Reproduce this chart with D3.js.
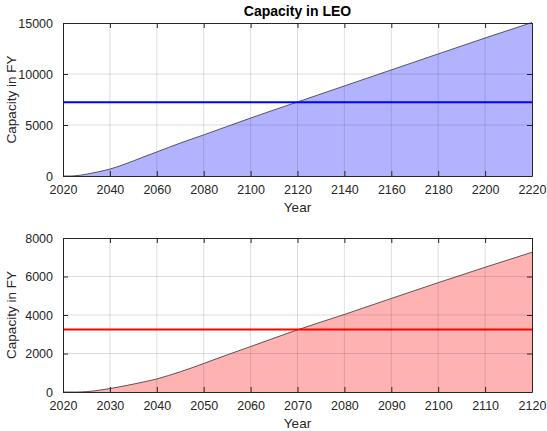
<!DOCTYPE html>
<html>
<head>
<meta charset="utf-8">
<script src="https://cdn.jsdelivr.net/npm/d3@7"></script>
<style>
  body { margin: 0; background: #fff; }
  svg { display: block; font-family: "Liberation Sans", Arial, Helvetica, sans-serif; }
</style>
</head>
<body>
<svg id="chart" width="547" height="431"></svg>
<script>
// Cumulative capacity (FY) by year
const years    = [2020, 2023, 2025, 2030, 2035, 2040, 2045, 2050, 2055, 2060, 2065, 2070, 2080, 2090, 2100, 2110, 2120, 2140, 2160, 2180, 2200, 2220];
const capacity = [0,    0,    20,   180,  410,  680,  1050, 1480, 1930, 2360, 2800, 3230, 4030, 4860, 5680, 6480, 7260, 8830, 10400, 11970, 13530, 15050];

// Demand levels drawn as horizontal reference lines
const demandLEO = 7220;
const demandLow = 3250;

// Panel settings
const panels = [
  { title: "Capacity in LEO", xDomain: [2020, 2220], xTicks: d3.range(2020, 2221, 20),
    yDomain: [0, 15000], yTicks: [0, 5000, 10000, 15000], demand: demandLEO,
    fill: "rgb(178,178,255)", line: "#0000ff", top: 23, bottom: 176 },
  { title: null, xDomain: [2020, 2120], xTicks: d3.range(2020, 2121, 10),
    yDomain: [0, 8000], yTicks: [0, 2000, 4000, 6000, 8000], demand: demandLow,
    fill: "rgb(255,178,178)", line: "#ff0000", top: 238, bottom: 392 }
];

const svg = d3.select("#chart");
const left = 63, right = 532;
const textColor = "#262626";
const tickLen = 5;

panels.forEach(p => {
  const x = d3.scaleLinear().domain(p.xDomain).range([left, right]);
  const y = d3.scaleLinear().domain(p.yDomain).range([p.bottom, p.top]);
  const g = svg.append("g");

  // Data restricted to the panel's year range
  const pts = years.map((yr, i) => ({ yr, v: capacity[i] }))
                   .filter(d => d.yr >= p.xDomain[0] && d.yr <= p.xDomain[1]);

  const area = d3.area().x(d => x(d.yr)).y0(y(0)).y1(d => y(d.v)).curve(d3.curveMonotoneX);
  const line = d3.line().x(d => x(d.yr)).y(d => y(d.v)).curve(d3.curveMonotoneX);

  g.append("path").datum(pts).attr("d", area).attr("fill", p.fill);
  g.append("path").datum(pts).attr("d", line)
    .attr("fill", "none").attr("stroke", "#333").attr("stroke-width", 0.8);

  // Grid drawn over the fill
  const grid = g.append("g").attr("stroke", "rgba(38,38,38,0.15)").attr("stroke-width", 1);
  p.xTicks.slice(1, -1).forEach(t => {
    grid.append("line").attr("x1", x(t)).attr("x2", x(t)).attr("y1", p.top).attr("y2", p.bottom);
  });
  p.yTicks.slice(1, -1).forEach(t => {
    grid.append("line").attr("x1", left).attr("x2", right).attr("y1", y(t)).attr("y2", y(t));
  });

  // Demand level
  g.append("line")
    .attr("x1", left).attr("x2", right)
    .attr("y1", y(p.demand)).attr("y2", y(p.demand))
    .attr("stroke", p.line).attr("stroke-width", 2);

  // Axes with inward ticks on all four sides
  const xAxisB = d3.axisBottom(x).tickValues(p.xTicks).tickFormat(d3.format("d"))
    .tickSizeInner(-tickLen).tickSizeOuter(0).tickPadding(9);
  const xAxisT = d3.axisTop(x).tickValues(p.xTicks).tickFormat("")
    .tickSizeInner(-tickLen).tickSizeOuter(0);
  const yAxisL = d3.axisLeft(y).tickValues(p.yTicks).tickFormat(d3.format("d"))
    .tickSizeInner(-tickLen).tickSizeOuter(0).tickPadding(10);
  const yAxisR = d3.axisRight(y).tickValues(p.yTicks).tickFormat("")
    .tickSizeInner(-tickLen).tickSizeOuter(0);

  const axes = [
    g.append("g").attr("transform", `translate(0,${p.bottom})`).call(xAxisB),
    g.append("g").attr("transform", `translate(0,${p.top})`).call(xAxisT),
    g.append("g").attr("transform", `translate(${left},0)`).call(yAxisL),
    g.append("g").attr("transform", `translate(${right},0)`).call(yAxisR)
  ];
  axes.forEach(a => {
    a.select(".domain").attr("stroke", textColor);
    a.selectAll(".tick line").attr("stroke", textColor);
    a.selectAll(".tick text").attr("fill", textColor)
      .style("font-size", "12.5px").style("font-family", "Liberation Sans, Arial, sans-serif");
  });

  // Axis labels
  g.append("text")
    .attr("x", (left + right) / 2).attr("y", p.bottom + 36)
    .attr("text-anchor", "middle").attr("fill", textColor)
    .style("font-size", "13.5px").text("Year");
  g.append("text")
    .attr("transform", `translate(16,${(p.top + p.bottom) / 2}) rotate(-90)`)
    .attr("text-anchor", "middle").attr("fill", textColor)
    .style("font-size", "13.5px").text("Capacity in FY");

  if (p.title) {
    g.append("text")
      .attr("x", (left + right) / 2).attr("y", p.top - 7)
      .attr("text-anchor", "middle").attr("fill", "#000")
      .style("font-size", "14px").style("font-weight", "bold").text(p.title);
  }
});
</script>
</body>
</html>
